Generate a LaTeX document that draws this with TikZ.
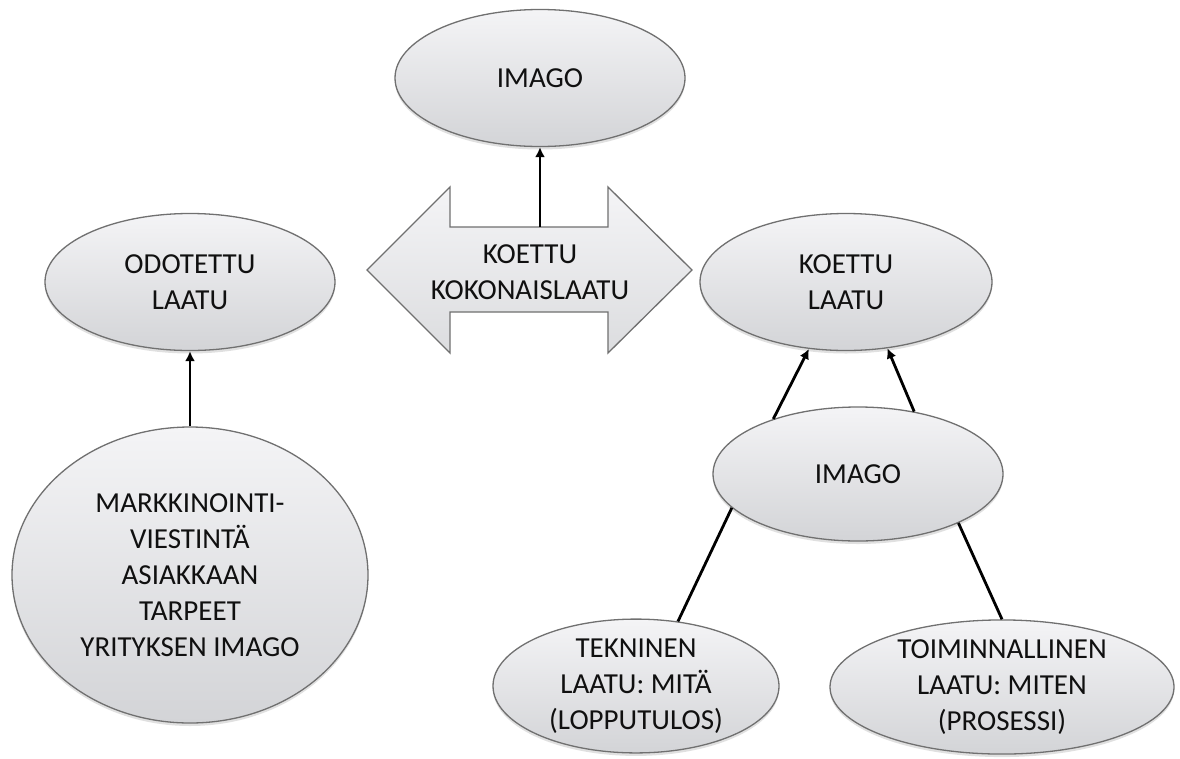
\documentclass[tikz,border=0pt]{standalone}
\usepackage{fontspec}
\setmainfont{Carlito}
\usetikzlibrary{shapes.geometric,arrows.meta,shadows}

\definecolor{rimgray}{HTML}{707070}
\definecolor{filltop}{HTML}{F4F4F6}
\definecolor{fillbot}{HTML}{D3D4D7}
\definecolor{inktext}{HTML}{101010}

\tikzset{
  bubble/.style={ellipse, draw=rimgray, line width=1.3pt,
    top color=filltop, bottom color=fillbot, inner sep=0pt,
    align=center, text=inktext, font=\fontsize{29}{36}\selectfont,
    drop shadow={shadow xshift=0pt, shadow yshift=-3pt, opacity=0.2, fill=black!60}},
  link/.style={line width=2.8pt, black},
  uplink/.style={link, -{Latex[length=10pt,width=10pt]}},
  bigarrow/.style={draw=rimgray, line width=1.3pt, top color=filltop, bottom color=fillbot!80!white},
  label/.style={align=center, text=inktext, font=\fontsize{29}{36}\selectfont}
}

\begin{document}
\begin{tikzpicture}[x=1pt, y=-1pt]
\useasboundingbox[fill=white] (0,0) rectangle (1180,758);

% double-headed arrow in the middle
\path[bigarrow] (367,270) -- (450,187) -- (450,227) -- (608,227) -- (608,187)
  -- (692,270) -- (608,353) -- (608,312) -- (450,312) -- (450,353) -- cycle;
\node[label] (kok) at (530,272) {KOETTU\\KOKONAISLAATU};
\coordinate (koktop) at (540,227);

% ellipses
\node[bubble, minimum width=290pt, minimum height=137pt] (img1) at (540,78) {IMAGO};
\node[bubble, minimum width=290pt, minimum height=137pt] (odo) at (190,282) {ODOTETTU\\LAATU};
\node[bubble, minimum width=292pt, minimum height=137pt] (koe) at (846,282) {KOETTU\\LAATU};
\node[bubble, minimum width=290pt, minimum height=134pt] (img2) at (858,474) {IMAGO};
\node[bubble, minimum width=356pt, minimum height=296pt] (mark) at (190,575)
  {MARKKINOINTI-\\VIESTINTÄ\\ASIAKKAAN\\TARPEET\\YRITYKSEN IMAGO};
\node[bubble, minimum width=286pt, minimum height=132pt] (tek) at (636,686)
  {TEKNINEN\\LAATU: MITÄ\\(LOPPUTULOS)};
\node[bubble, minimum width=344pt, minimum height=130pt] (toi) at (1002,687)
  {TOIMINNALLINEN\\LAATU: MITEN\\(PROSESSI)};

% connectors
\draw[uplink] (koktop) -- (img1.south);
\draw[uplink] (mark.north) -- (odo.south);
\draw[uplink] (img2.147) -- (koe.241);
\draw[uplink] (img2.48) -- (koe.302);
\draw[link] (tek.57) -- (img2.195);
\draw[link] (toi.north) -- (img2.334);
\end{tikzpicture}
\end{document}
